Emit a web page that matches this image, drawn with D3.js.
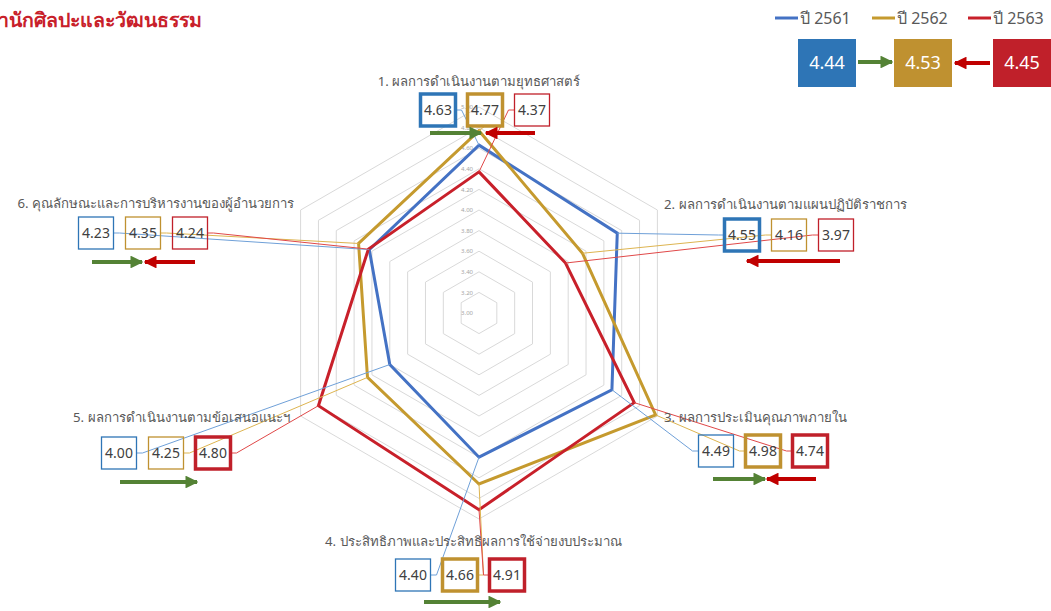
<!DOCTYPE html>
<html>
<head>
<meta charset="utf-8">
<script src="https://cdn.jsdelivr.net/npm/d3@7"></script>
<style>
  body { margin: 0; background: #fff; }
  svg { display: block; font-family: "Noto Sans", "Segoe UI", Tahoma, sans-serif; }
</style>
</head>
<body>
<svg id="chart"></svg>
<script>
// Categories (clockwise from top)
const categories = [
  "1. ผลการดำเนินงานตามยุทธศาสตร์",
  "2. ผลการดำเนินงานตามแผนปฏิบัติราชการ",
  "3. ผลการประเมินคุณภาพภายใน",
  "4. ประสิทธิภาพและประสิทธิผลการใช้จ่ายงบประมาณ",
  "5. ผลการดำเนินงานตามข้อเสนอแนะฯ",
  "6. คุณลักษณะและการบริหารงานของผู้อำนวยการ"
];

const years = ["ปี 2561", "ปี 2562", "ปี 2563"];
const values2561 = [4.63, 4.55, 4.49, 4.40, 4.00, 4.23];
const values2562 = [4.77, 4.16, 4.98, 4.66, 4.25, 4.35];
const values2563 = [4.37, 3.97, 4.74, 4.91, 4.80, 4.24];
const averages = [4.44, 4.53, 4.45];

// which value boxes get the heavy border, per category [2561, 2562, 2563]
const emphasised = [
  [true, true, false],
  [true, false, false],
  [false, true, true],
  [false, true, true],
  [false, false, true],
  [false, false, false]
];

const title = "สำนักศิลปะและวัฒนธรรม";

const series = [values2561, values2562, values2563];
const lineColors = ["#4472C4", "#C59A2E", "#C8202A"];
const boxColors = ["#2E75B6", "#BF9130", "#C0202A"];
const leaderColors = ["#6FA0D8", "#DDB450", "#E04848"];

const width = 1051, height = 611;
const cx = 479, cy = 313;

const svg = d3.select("#chart").attr("width", width).attr("height", height);

// radial scale 3.00 at centre, 5.00 at outer ring
const r = d3.scaleLinear().domain([3, 5]).range([0, 206]);
const angle = d3.scaleLinear().domain([0, categories.length]).range([0, 2 * Math.PI]);

function pt(i, v) {
  const a = angle(i);
  return [cx + r(v) * Math.sin(a), cy - r(v) * Math.cos(a)];
}

const g = svg.append("g");

// grid rings
const ticks = r.ticks(10);
ticks.filter(t => t > 3).forEach(t => {
  g.append("path")
    .attr("d", d3.line()(categories.map((c, i) => pt(i, t))) + "Z")
    .attr("fill", "none")
    .attr("stroke", "#D9D9D9")
    .attr("stroke-width", 1);
});

// tick labels
g.selectAll(".tick-label")
  .data(ticks)
  .join("text")
  .attr("x", cx - 6)
  .attr("y", d => cy - r(d))
  .attr("dy", "0.35em")
  .attr("text-anchor", "end")
  .attr("font-size", 6)
  .attr("fill", "#A6A6A6")
  .text(d => d3.format(".2f")(d));

// series lines
const radial = d3.lineRadial()
  .angle((d, i) => angle(i))
  .radius(d => r(d))
  .curve(d3.curveLinearClosed);

const leaders = svg.append("g");

series.forEach((vals, s) => {
  g.append("path")
    .attr("transform", `translate(${cx},${cy})`)
    .attr("d", radial(vals))
    .attr("fill", "none")
    .attr("stroke", lineColors[s])
    .attr("stroke-width", 3)
    .attr("stroke-linejoin", "miter");
});

// category label placement
const labelPos = [
  { x: 479, y: 81, anchor: "middle" },
  { x: 664, y: 204, anchor: "start" },
  { x: 664, y: 417, anchor: "start" },
  { x: 325, y: 541, anchor: "start" },
  { x: 73, y: 417, anchor: "start" },
  { x: 294, y: 203, anchor: "end" }
];

svg.selectAll(".cat-label")
  .data(categories)
  .join("text")
  .attr("x", (d, i) => labelPos[i].x)
  .attr("y", (d, i) => labelPos[i].y)
  .attr("dy", "0.35em")
  .attr("text-anchor", (d, i) => labelPos[i].anchor)
  .attr("font-size", 13.2)
  .attr("fill", "#595959")
  .text(d => d);

// value boxes: centre of first box per category, then spaced to the right
const boxPos = [
  { x: 438, y: 110 },
  { x: 742, y: 235 },
  { x: 716, y: 451 },
  { x: 413, y: 575 },
  { x: 119, y: 453 },
  { x: 96, y: 233 }
];
const boxStep = 47, boxW = 35, boxH = 32;

const boxes = svg.append("g");

categories.forEach((c, i) => {
  series.forEach((vals, s) => {
    const v = vals[i];
    const bx = boxPos[i].x + s * boxStep, by = boxPos[i].y;
    const left = bx - boxW / 2, right = bx + boxW / 2;
    const top = by - boxH / 2, bottom = by + boxH / 2;
    const [vx, vy] = pt(i, v);

    // leader line from vertex to nearest side of the box
    let pts;
    if (vx < left) pts = [[vx, vy], [left - 6, by], [left, by]];
    else if (vx > right) pts = [[vx, vy], [right + 6, by], [right, by]];
    else if (vy < top) pts = [[vx, vy], [bx, top]];
    else pts = [[vx, vy], [bx, bottom]];

    leaders.append("path")
      .attr("d", d3.line()(pts))
      .attr("fill", "none")
      .attr("stroke", leaderColors[s])
      .attr("stroke-width", 1);

    const heavy = emphasised[i][s];
    boxes.append("rect")
      .attr("x", left)
      .attr("y", top)
      .attr("width", boxW)
      .attr("height", boxH)
      .attr("fill", "none")
      .attr("stroke", boxColors[s])
      .attr("stroke-width", heavy ? 3.5 : 1.3);

    boxes.append("text")
      .attr("x", bx)
      .attr("y", by)
      .attr("dy", "0.35em")
      .attr("text-anchor", "middle")
      .attr("font-size", 14)
      .attr("fill", "#404040")
      .text(d3.format(".2f")(v));
  });
});

// arrows
const defs = svg.append("defs");
[["green", "#548235"], ["red", "#C00000"]].forEach(([id, col]) => {
  defs.append("marker")
    .attr("id", "head-" + id)
    .attr("viewBox", "0 0 10 10")
    .attr("refX", 9)
    .attr("refY", 5)
    .attr("markerWidth", 3.2)
    .attr("markerHeight", 3.2)
    .attr("markerUnits", "strokeWidth")
    .attr("orient", "auto")
    .append("path")
    .attr("d", "M0,0L10,5L0,10Z")
    .attr("fill", col);
});

const arrows = [
  { x1: 430, x2: 481, y: 133, c: "green" },
  { x1: 535, x2: 486, y: 133, c: "red" },
  { x1: 840, x2: 747, y: 261, c: "red" },
  { x1: 713, x2: 765, y: 479, c: "green" },
  { x1: 816, x2: 767, y: 479, c: "red" },
  { x1: 424, x2: 500, y: 602, c: "green" },
  { x1: 120, x2: 197, y: 482, c: "green" },
  { x1: 92, x2: 142, y: 262, c: "green" },
  { x1: 195, x2: 145, y: 262, c: "red" },
  { x1: 858, x2: 892, y: 62, c: "green" },
  { x1: 990, x2: 955, y: 63, c: "red" }
];

svg.append("g").selectAll("line")
  .data(arrows)
  .join("line")
  .attr("x1", d => d.x1)
  .attr("x2", d => d.x2)
  .attr("y1", d => d.y)
  .attr("y2", d => d.y)
  .attr("stroke", d => d.c === "green" ? "#548235" : "#C00000")
  .attr("stroke-width", 4)
  .attr("marker-end", d => `url(#head-${d.c})`);

// legend
const legendX = [775, 872, 968];
const legend = svg.append("g");
years.forEach((y, s) => {
  legend.append("line")
    .attr("x1", legendX[s]).attr("x2", legendX[s] + 23)
    .attr("y1", 18).attr("y2", 18)
    .attr("stroke", lineColors[s])
    .attr("stroke-width", 3);
  legend.append("text")
    .attr("x", legendX[s] + 25)
    .attr("y", 18)
    .attr("dy", "0.35em")
    .attr("font-size", 16)
    .attr("fill", "#595959")
    .text(y);
});

// average boxes
const avgX = [798, 894, 993];
averages.forEach((v, s) => {
  legend.append("rect")
    .attr("x", avgX[s]).attr("y", 39)
    .attr("width", 58).attr("height", 48)
    .attr("fill", boxColors[s]);
  legend.append("text")
    .attr("x", avgX[s] + 29).attr("y", 63)
    .attr("dy", "0.35em")
    .attr("text-anchor", "middle")
    .attr("font-size", 18)
    .attr("fill", "#fff")
    .text(d3.format(".2f")(v));
});

// title (left part runs off the canvas, as in the source)
svg.append("text")
  .attr("x", 202)
  .attr("y", 20)
  .attr("dy", "0.35em")
  .attr("text-anchor", "end")
  .attr("font-size", 19.5)
  .attr("font-weight", "bold")
  .attr("fill", "#C8202A")
  .text(title);
</script>
</body>
</html>
